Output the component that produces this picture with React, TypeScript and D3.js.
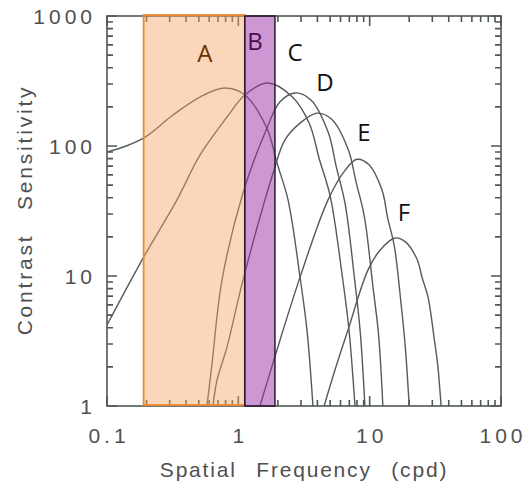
import React from 'react';
import * as d3 from 'd3';

const W = 529;
const H = 489;

const xDomain: [number, number] = [0.1, 100];
const yDomain: [number, number] = [1, 1000];

const xTickValues = [0.1, 1, 10, 100];
const xTickLabels = ['0.1', '1', '10', '100'];
const yTickValues = [1, 10, 100, 1000];
const yTickLabels = ['1', '10', '100', '1000'];

// Mechanism sensitivity curves: [cpd, sensitivity]
const mechA: [number, number][] = [
  [0.1, 90], [0.14, 100], [0.195, 117], [0.318, 173], [0.51, 238], [0.79, 279], [1.12, 247],
  [1.65, 137], [1.97, 74], [2.39, 38.5], [2.95, 9.8], [3.33, 3.85], [3.7, 1],
];
const mechB: [number, number][] = [
  [0.1, 4.2], [0.191, 14.1], [0.341, 38.5], [0.51, 85], [0.82, 167], [1.12, 247],
  [1.68, 305], [2.56, 240], [3.47, 149], [4.14, 79], [5.01, 41], [6.17, 10.2],
  [6.95, 3.9], [7.73, 1],
];
const mechC: [number, number][] = [
  [0.577, 1], [0.63, 2.1], [0.751, 9.3], [1.085, 43.5], [1.65, 137], [2.07, 218],
  [2.7, 256], [3.57, 226], [4.84, 127], [5.57, 69], [6.5, 36], [7.67, 9.5],
  [8.46, 3.8], [9.2, 1],
];
const mechD: [number, number][] = [
  [0.641, 1], [0.688, 1.58], [0.82, 2.85], [1.085, 9.3], [1.84, 62], [2.26, 111],
  [2.95, 150], [3.97, 179], [5.16, 160], [6.89, 93], [7.87, 53], [9.1, 28.9],
  [10.6, 8.2], [11.7, 3.5], [12.6, 1],
];
const mechE: [number, number][] = [
  [1.46, 1], [1.9, 2.4], [2.95, 9.8], [4.82, 38.5], [6.49, 65], [8.0, 79],
  [9.84, 72], [12.4, 46], [13.7, 28], [15.4, 17], [17.4, 5.9], [18.7, 2.8], [20, 1],
];
const mechF: [number, number][] = [
  [4.5, 1], [5.45, 1.9], [6.84, 3.85], [9.7, 11.1], [12.0, 15.8], [15.6, 19.6],
  [18.7, 18.3], [22.9, 13.5], [25.1, 9.7], [27.8, 6.9], [31, 3.3], [33.1, 2.0], [35, 1],
];
const mechanisms = [mechA, mechB, mechC, mechD, mechE, mechF];

// Shaded bands (cpd)
const bandA: [number, number] = [0.19, 1.12];
const bandB: [number, number] = [1.12, 1.9];

// Letter annotations
const letterNames = ['A', 'B', 'C', 'D', 'E', 'F'];
const letterF = [0.557, 1.34, 2.7, 4.57, 9.06, 18.2];
const letterS = [443, 548, 451, 265, 109, 26.5];
const letterColors = ['#6b3000', '#4a0e4e', '#111', '#111', '#111', '#111'];

const xTitle = 'Spatial Frequency (cpd)';
const yTitle = 'Contrast Sensitivity';

export default function App() {
  const left = 107, right = 501, top = 16, bottom = 406;
  const xs = d3.scaleLog().domain(xDomain).range([left, right]);
  const ys = d3.scaleLog().domain(yDomain).range([bottom, top]);

  const line = d3
    .line<[number, number]>()
    .x((d) => xs(d[0]))
    .y((d) => ys(d[1]))
    .curve(d3.curveCatmullRom.alpha(0.5));

  const minorX: number[] = [];
  for (let e = -1; e < 2; e++) for (let k = 2; k <= 9; k++) minorX.push(k * Math.pow(10, e));
  const minorY: number[] = [];
  for (let e = 0; e < 3; e++) for (let k = 2; k <= 9; k++) minorY.push(k * Math.pow(10, e));

  const axisColor = '#4f5751';
  const curveColor = '#535c56';
  const textColor = '#505050';
  const majLen = 10, minLen = 6;

  let tickPath = '';
  const addX = (v: number, len: number) => {
    const x = xs(v);
    tickPath += `M${x},${bottom}V${bottom - len}M${x},${top}V${top + len}`;
  };
  const addY = (v: number, len: number) => {
    const y = ys(v);
    tickPath += `M${left},${y}H${left + len}M${right},${y}H${right - len}`;
  };
  xTickValues.forEach((v) => addX(v, majLen));
  minorX.forEach((v) => addX(v, minLen));
  yTickValues.forEach((v) => addY(v, majLen));
  minorY.forEach((v) => addY(v, minLen));

  const tickFont = { fontFamily: 'Liberation Sans, Arial, sans-serif', fontSize: 21, letterSpacing: 4, fill: textColor };

  return (
    <svg width={W} height={H} style={{ position: 'absolute', left: 0, top: 0, background: '#fff' }}>
      <defs>
        <clipPath id="plotClip">
          <rect x={left} y={top} width={right - left} height={bottom - top} />
        </clipPath>
      </defs>
      <rect x={0} y={0} width={W} height={H} fill="#fff" />
      <path d={tickPath} fill="none" stroke={axisColor} strokeWidth={1.6} />
      <rect x={left} y={top} width={right - left} height={bottom - top} fill="none" stroke={axisColor} strokeWidth={1.6} />
      <g clipPath="url(#plotClip)">
        {mechanisms.map((m, i) => (
          <path key={'c' + i} d={line(m) || ''} fill="none" stroke={curveColor} strokeWidth={1.4} />
        ))}
      </g>
      <rect
        x={xs(bandA[0])}
        y={ys(yDomain[1]) - 1}
        width={xs(bandA[1]) - xs(bandA[0])}
        height={ys(yDomain[0]) - ys(yDomain[1])}
        fill="#f7a465"
        fillOpacity={0.45}
        stroke="#f0892f"
        strokeWidth={1.8}
      />
      <rect
        x={xs(bandB[0])}
        y={ys(yDomain[1])}
        width={xs(bandB[1]) - xs(bandB[0])}
        height={ys(yDomain[0]) - ys(yDomain[1])}
        fill="#9b30a8"
        fillOpacity={0.5}
        stroke="#2a1a2d"
        strokeWidth={1.5}
      />
      {letterNames.map((n, i) => (
        <text
          key={'l' + n}
          x={xs(letterF[i])}
          y={ys(letterS[i])}
          textAnchor="middle"
          fontFamily="Open Sans, Carlito, sans-serif"
          fontSize={24}
          fill={letterColors[i]}
        >
          {n}
        </text>
      ))}
      {yTickValues.map((v, i) => (
        <text key={'yt' + i} x={96} y={ys(v) + 7.5} textAnchor="end" {...tickFont}>
          {yTickLabels[i]}
        </text>
      ))}
      {xTickValues.map((v, i) => (
        <text key={'xt' + i} x={xs(v) + 2} y={443} textAnchor="middle" {...tickFont}>
          {xTickLabels[i]}
        </text>
      ))}
      <text
        x={(left + right) / 2}
        y={477}
        textAnchor="middle"
        fontFamily="Liberation Sans, Arial, sans-serif"
        fontSize={21}
        letterSpacing={1.8}
        wordSpacing={12}
        fill={textColor}
      >
        {xTitle}
      </text>
      <text
        transform={`translate(32, 210) rotate(-90)`}
        textAnchor="middle"
        fontFamily="Liberation Sans, Arial, sans-serif"
        fontSize={21}
        letterSpacing={2.8}
        wordSpacing={15}
        fill={textColor}
      >
        {yTitle}
      </text>
    </svg>
  );
}
